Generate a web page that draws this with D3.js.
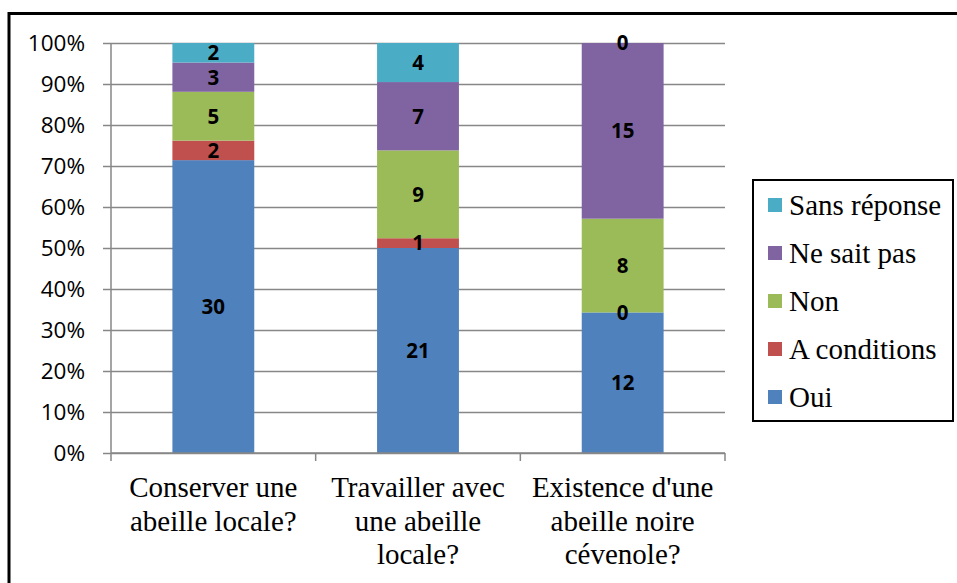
<!DOCTYPE html>
<html>
<head>
<meta charset="utf-8">
<script src="https://cdn.jsdelivr.net/npm/d3@7"></script>
<style>
  body { margin: 0; background: #fff; }
  svg { display: block; }
</style>
</head>
<body>
<div id="chart"></div>
<script>
// Questions (x categories), split in lines as in the original
const categories = ['Conserver', 'Travailler', 'Existence'];
const categoryLines = [
  ['Conserver une', 'abeille locale?'],
  ['Travailler avec', 'une abeille', 'locale?'],
  ["Existence d'une", 'abeille noire', 'cévenole?']
];

// Answer series, bottom to top of the stack
const seriesNames = ['Oui', 'A conditions', 'Non', 'Ne sait pas', 'Sans réponse'];
const seriesColors = ['#4f81bd', '#c0504d', '#9bbb59', '#8064a2', '#4bacc6'];

// Counts per series, one value per category
const oui = [30, 21, 12];
const aConditions = [2, 1, 0];
const non = [5, 9, 8];
const neSaitPas = [3, 7, 15];
const sansReponse = [2, 4, 0];

const yTicks = [0, 0.1, 0.2, 0.3, 0.4, 0.5, 0.6, 0.7, 0.8, 0.9, 1];

const width = 957, height = 583;
const plot = { left: 111, right: 725, top: 43, bottom: 453 };
const serifFont = '"Liberation Serif"';
const sansFont = '"Open Sans"';

const svg = d3.select('#chart').append('svg')
  .attr('width', width)
  .attr('height', height);

// outer frame (right and bottom edges fall outside the picture)
svg.append('rect')
  .attr('x', 9).attr('y', 13.5)
  .attr('width', width + 10).attr('height', height + 10)
  .attr('fill', '#fff')
  .attr('stroke', '#000')
  .attr('stroke-width', 3);

// build table of rows
const valueRows = [oui, aConditions, non, neSaitPas, sansReponse];
const table = categories.map((c, i) => {
  const row = { category: c };
  seriesNames.forEach((s, j) => { row[s] = valueRows[j][i]; });
  return row;
});

const stack = d3.stack()
  .keys(seriesNames)
  .offset(d3.stackOffsetExpand);
const stacked = stack(table);

const x = d3.scaleBand()
  .domain(categories)
  .range([plot.left, plot.right])
  .paddingInner(0.6)
  .paddingOuter(0.3);

const y = d3.scaleLinear()
  .domain([0, 1])
  .range([plot.bottom, plot.top]);

// horizontal gridlines + y axis
const yAxis = d3.axisLeft(y)
  .tickValues(yTicks)
  .tickSize(-(plot.right - plot.left))
  .tickPadding(26)
  .tickFormat(d3.format('.0%'));

const yAxisG = svg.append('g')
  .attr('transform', `translate(${plot.left},0)`)
  .call(yAxis);
yAxisG.attr('font-family', null).attr('font-size', null);
yAxisG.select('.domain').remove();
yAxisG.selectAll('.tick line')
  .attr('x1', -8)
  .attr('stroke', '#878787')
  .attr('stroke-width', 1.5);
yAxisG.selectAll('.tick text')
  .style('font-family', sansFont)
  .style('font-size', '22.5px')
  .attr('fill', '#000');

// vertical axis line
svg.append('line')
  .attr('x1', plot.left).attr('x2', plot.left)
  .attr('y1', plot.top).attr('y2', plot.bottom)
  .attr('stroke', '#878787')
  .attr('stroke-width', 1.5);

// bars
const layers = svg.append('g').selectAll('g')
  .data(stacked)
  .join('g')
  .attr('fill', (d, i) => seriesColors[i]);

layers.selectAll('rect')
  .data(d => d)
  .join('rect')
  .attr('x', d => x(d.data.category))
  .attr('width', x.bandwidth())
  .attr('y', d => y(d[1]))
  .attr('height', d => y(d[0]) - y(d[1]));

// x axis with ticks at band boundaries
const xAxisG = svg.append('g');
xAxisG.append('line')
  .attr('x1', plot.left).attr('x2', plot.right)
  .attr('y1', plot.bottom).attr('y2', plot.bottom)
  .attr('stroke', '#878787')
  .attr('stroke-width', 1.5);
const boundaries = [plot.left].concat(categories.map(c => x(c) + x.bandwidth() + x.step() * 0.3));
xAxisG.selectAll('.xtick')
  .data(boundaries)
  .join('line')
  .attr('class', 'xtick')
  .attr('x1', d => d).attr('x2', d => d)
  .attr('y1', plot.bottom).attr('y2', plot.bottom + 8)
  .attr('stroke', '#878787')
  .attr('stroke-width', 1.5);

// data labels (drawn above all bars)
const labels = [];
stacked.forEach(layer => layer.forEach(p => labels.push({ p, key: layer.key })));
svg.append('g').selectAll('text')
  .data(labels)
  .join('text')
  .attr('x', d => x(d.p.data.category) + x.bandwidth() / 2)
  .attr('y', d => (y(d.p[0]) + y(d.p[1])) / 2)
  .attr('dy', '0.36em')
  .attr('text-anchor', 'middle')
  .style('font-family', sansFont)
  .style('font-weight', 700)
  .style('font-size', '20.5px')
  .attr('fill', '#000')
  .text(d => d.p.data[d.key]);

// category labels
const catG = svg.append('g').selectAll('text')
  .data(categories)
  .join('text')
  .attr('x', d => x(d) + x.bandwidth() / 2)
  .attr('y', 497)
  .attr('text-anchor', 'middle')
  .style('font-family', serifFont)
  .style('font-size', '29px')
  .attr('fill', '#000');
catG.selectAll('tspan')
  .data((d, i) => categoryLines[i])
  .join('tspan')
  .attr('x', function() { return this.parentNode.getAttribute('x'); })
  .attr('dy', (d, i) => i === 0 ? 0 : 33.5)
  .text(d => d);

// legend
const legend = svg.append('g');
legend.append('rect')
  .attr('x', 753).attr('y', 180)
  .attr('width', 200).attr('height', 241)
  .attr('fill', '#fff')
  .attr('stroke', '#000')
  .attr('stroke-width', 2);

const legendOrder = seriesNames.map((s, i) => i).reverse();
const items = legend.selectAll('.item')
  .data(legendOrder)
  .join('g')
  .attr('class', 'item')
  .attr('transform', (d, k) => `translate(768,${205 + k * 48})`);
items.append('rect')
  .attr('x', 0).attr('y', -7)
  .attr('width', 14).attr('height', 14)
  .attr('fill', d => seriesColors[d]);
items.append('text')
  .attr('x', 21)
  .attr('y', 10)
  .style('font-family', serifFont)
  .style('font-size', '29px')
  .attr('fill', '#000')
  .text(d => seriesNames[d]);
</script>
</body>
</html>
